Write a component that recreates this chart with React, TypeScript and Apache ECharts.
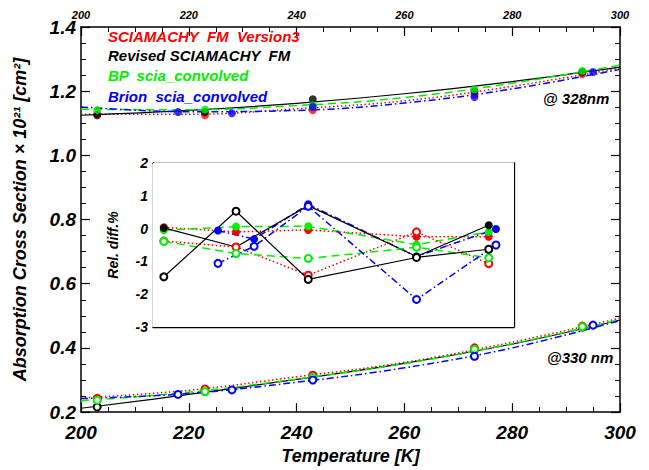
import React, { useEffect, useRef } from "react";
import * as echarts from "echarts";

// Temperatures [K]
const tempsSci = [203, 223, 243, 273, 293];
const tempsBrion = [218, 228, 243, 273, 295];
const fitT = [200, 220, 240, 260, 280, 300];

// Measured points @ 328 nm (filled)
const red328 = [1.128, 1.125, 1.141, 1.19, 1.253];
const black328 = [1.125, 1.135, 1.175, 1.2, 1.26];
const green328 = [1.141, 1.143, 1.156, 1.205, 1.263];
const blue328 = [1.135, 1.131, 1.151, 1.182, 1.26];

// Measured points @ 330 nm (open)
const red330 = [0.243, 0.272, 0.315, 0.4, 0.468];
const black330 = [0.216, 0.265, 0.305, 0.395, 0.465];
const green330 = [0.237, 0.264, 0.308, 0.396, 0.466];
const blue330 = [0.255, 0.269, 0.3, 0.374, 0.471];

// Fit curves
const redFit328 = [1.128, 1.128, 1.145, 1.17, 1.215, 1.272];
const blackFit328 = [1.125, 1.14, 1.162, 1.192, 1.23, 1.275];
const greenFit328 = [1.144, 1.142, 1.155, 1.18, 1.225, 1.281];
const blueFit328 = [1.151, 1.136, 1.14, 1.163, 1.207, 1.268];
const redFit330 = [0.244, 0.268, 0.31, 0.355, 0.418, 0.493];
const blackFit330 = [0.212, 0.255, 0.302, 0.352, 0.412, 0.487];
const greenFit330 = [0.235, 0.262, 0.303, 0.351, 0.413, 0.488];
const blueFit330 = [0.242, 0.258, 0.293, 0.338, 0.4, 0.485];

// Relative differences [%] (inset)
const redRel328 = [0.04, -0.1, -0.04, -0.25, -0.25];
const blackRel328 = [0.02, -0.56, 0.7, -0.85, 0.1];
const greenRel328 = [-0.05, 0.06, 0.07, -0.49, -0.1];
const blueRel328 = [-0.06, -0.32, 0.74, -0.85, -0.01];
const redRel330 = [-0.38, -0.56, -1.42, -0.1, -1.07];
const blackRel330 = [-1.47, 0.53, -1.55, -0.88, -0.63];
const greenRel330 = [-0.39, -0.76, -0.91, -0.57, -0.89];
const blueRel330 = [-1.06, -0.54, 0.68, -2.16, -0.5];

const xTicks = [200, 220, 240, 260, 280, 300];
const yTicks = [0.2, 0.4, 0.6, 0.8, 1.0, 1.2, 1.4];
const relTicks = [-3, -2, -1, 0, 1, 2];

const legendNames = [
  "SCIAMACHY  FM  Version3",
  "Revised SCIAMACHY  FM",
  "BP  scia_convolved",
  "Brion  scia_convolved",
];

const RED = "#ff0000";
const BLACK = "#000000";
const GREEN = "#00ee00";
const BLUE = "#0000ff";
const FONT = '"Liberation Sans", Arial, Helvetica, sans-serif';

const styles: any = {
  red: { color: RED, type: [1.5, 2.5], width: 1.5 },
  black: { color: BLACK, type: "solid", width: 1.2 },
  green: { color: GREEN, type: [8, 5], width: 1.5 },
  blue: { color: BLUE, type: [7, 3, 1.5, 3], width: 1.5 },
};

const zip = (xs: number[], ys: number[]) => xs.map((x, i) => [x, ys[i]]);

export default function App() {
  const ref = useRef<HTMLDivElement>(null);
  useEffect(() => {
    document.body.style.margin = "0";
    const chart = echarts.init(ref.current!, undefined, { renderer: "svg" });

    const fitLine = (name: string, key: string, ys: number[]) => ({
      name,
      type: "line",
      xAxisIndex: 0,
      yAxisIndex: 0,
      data: zip(fitT, ys),
      smooth: 0.4,
      showSymbol: false,
      lineStyle: styles[key],
      z: 2,
    });
    const pts = (name: string, key: string, xs: number[], ys: number[], open: boolean) => ({
      name,
      type: "scatter",
      xAxisIndex: 0,
      yAxisIndex: 0,
      data: zip(xs, ys),
      symbol: open ? "emptyCircle" : "circle",
      symbolSize: open ? 7 : 8,
      itemStyle: open
        ? { color: styles[key].color, borderWidth: 1, opacity: 1 }
        : { color: styles[key].color },
      z: 3,
    });
    const rel = (name: string, key: string, xs: number[], ys: number[], open: boolean) => ({
      name,
      type: "line",
      xAxisIndex: 2,
      yAxisIndex: 2,
      data: zip(xs, ys),
      symbol: open ? "emptyCircle" : "circle",
      symbolSize: open ? 7 : 8,
      showAllSymbol: true,
      lineStyle: styles[key],
      itemStyle: open
        ? { color: styles[key].color, borderWidth: 1 }
        : { color: styles[key].color },
      z: 5,
    });

    const tickFont = { fontFamily: FONT, fontWeight: "bold", fontStyle: "italic", color: "#000" };

    const option: any = {
      animation: false,
      backgroundColor: "#fff",
      grid: [
        { left: 81, right: 29, top: 27, bottom: 57, show: false },
        { left: 153, top: 163, width: 361, height: 164, show: true, backgroundColor: "#fff", borderWidth: 0, z: 4 },
      ],
      xAxis: [
        {
          gridIndex: 0, type: "value", position: "bottom", min: 200, max: 300, interval: 20,
          axisLine: { show: true, onZero: false, lineStyle: { color: "#000", width: 1.5 } },
          axisTick: { inside: true, length: 9, lineStyle: { color: "#000", width: 1.2 } },
          minorTick: { show: true, splitNumber: 4, length: 5, lineStyle: { color: "#000", width: 1 } },
          splitLine: { show: false },
          axisLabel: { ...tickFont, fontSize: 19, margin: 11, formatter: (v: number) => (xTicks.includes(v) ? String(v) : "") },
          name: "Temperature [K]", nameLocation: "middle", nameGap: 33,
          nameTextStyle: { ...tickFont, fontSize: 18 },
        },
        {
          gridIndex: 0, type: "value", position: "top", min: 200, max: 300, interval: 20,
          axisLine: { show: true, onZero: false, lineStyle: { color: "#000", width: 1.5 } },
          axisTick: { inside: true, length: 9, lineStyle: { color: "#000", width: 1.2 } },
          minorTick: { show: true, splitNumber: 4, length: 5, lineStyle: { color: "#000", width: 1 } },
          splitLine: { show: false },
          axisLabel: { ...tickFont, fontSize: 11, lineHeight: 10, margin: 7 },
        },
        {
          gridIndex: 1, type: "value", position: "bottom", min: 200, max: 300, interval: 20,
          axisLine: { show: true, onZero: false, lineStyle: { color: "#000", width: 1.3 } },
          axisTick: { inside: true, length: 6, lineStyle: { color: "#000" } },
          minorTick: { show: true, splitNumber: 2, length: 4, lineStyle: { color: "#000" } },
          splitLine: { show: false },
          axisLabel: { show: false },
        },
        {
          gridIndex: 1, type: "value", position: "top", min: 200, max: 300, interval: 20,
          axisLine: { show: true, onZero: false, lineStyle: { color: "#000", width: 1.3 } },
          axisTick: { inside: true, length: 6, lineStyle: { color: "#000" } },
          minorTick: { show: true, splitNumber: 10, length: 4, lineStyle: { color: "#000" } },
          splitLine: { show: false },
          axisLabel: { show: false },
        },
      ],
      yAxis: [
        {
          gridIndex: 0, type: "value", position: "left", min: 0.2, max: 1.4, interval: 0.2,
          axisLine: { show: true, onZero: false, lineStyle: { color: "#000", width: 1.5 } },
          axisTick: { inside: true, length: 9, lineStyle: { color: "#000", width: 1.2 } },
          minorTick: { show: true, splitNumber: 4, length: 5, lineStyle: { color: "#000", width: 1 } },
          splitLine: { show: false },
          axisLabel: {
            ...tickFont, fontSize: 19, lineHeight: 13, margin: 5,
            formatter: (v: number) => {
              const t = yTicks.find((y) => Math.abs(y - v) < 1e-6);
              return t === undefined ? "" : t.toFixed(1);
            },
          },
          name: "Absorption Cross Section × 10²¹ [cm²]", nameLocation: "middle", nameGap: 52, nameRotate: 90,
          nameTextStyle: { ...tickFont, fontSize: 18 },
        },
        {
          gridIndex: 0, type: "value", position: "right", min: 0.2, max: 1.4, interval: 0.2,
          axisLine: { show: true, onZero: false, lineStyle: { color: "#000", width: 1.5 } },
          axisTick: { inside: true, length: 9, lineStyle: { color: "#000", width: 1.2 } },
          minorTick: { show: true, splitNumber: 4, length: 5, lineStyle: { color: "#000", width: 1 } },
          splitLine: { show: false },
          axisLabel: { show: false },
        },
        {
          gridIndex: 1, type: "value", position: "left", min: -3, max: 2, interval: 1,
          axisLine: { show: true, onZero: false, lineStyle: { color: "#000", width: 1.3 } },
          axisTick: { inside: true, length: 7, lineStyle: { color: "#000" } },
          minorTick: { show: true, splitNumber: 10, length: 4, lineStyle: { color: "#000" } },
          splitLine: { show: true, lineStyle: { color: "#000", type: "dotted", width: 1 } },
          axisLabel: {
            ...tickFont, fontSize: 14, margin: 5,
            formatter: (v: number) => (relTicks.includes(v) ? String(v) : ""),
          },
          name: "Rel. diff.%", nameLocation: "middle", nameGap: 33, nameRotate: 90,
          nameTextStyle: { ...tickFont, fontSize: 14 },
        },
        {
          gridIndex: 1, type: "value", position: "right", min: -3, max: 2, interval: 1,
          axisLine: { show: true, onZero: false, lineStyle: { color: "#000", width: 1.3 } },
          axisTick: { inside: true, length: 7, lineStyle: { color: "#000" } },
          minorTick: { show: true, splitNumber: 10, length: 4, lineStyle: { color: "#000" } },
          splitLine: { show: false },
          axisLabel: { show: false },
        },
      ],
      graphic: [
        ...legendNames.map((t, i) => ({
          type: "text",
          x: 108,
          y: [36, 55, 75, 96][i],
          z: 10,
          style: {
            text: t,
            fill: [RED, BLACK, GREEN, BLUE][i],
            font: `italic bold 15px ${FONT}`,
            align: "left",
            verticalAlign: "middle",
          },
        })),
        {
          type: "text", x: 543, y: 98, z: 10,
          style: { text: "@ 328nm", fill: "#000", font: `italic bold 15px ${FONT}`, align: "left", verticalAlign: "middle" },
        },
        {
          type: "text", x: 547, y: 357, z: 10,
          style: { text: "@330 nm", fill: "#000", font: `italic bold 15px ${FONT}`, align: "left", verticalAlign: "middle" },
        },
      ],
      series: [
        fitLine(legendNames[0], "red", redFit328),
        fitLine(legendNames[1], "black", blackFit328),
        fitLine(legendNames[2], "green", greenFit328),
        fitLine(legendNames[3], "blue", blueFit328),
        fitLine(legendNames[0], "red", redFit330),
        fitLine(legendNames[1], "black", blackFit330),
        fitLine(legendNames[2], "green", greenFit330),
        fitLine(legendNames[3], "blue", blueFit330),
        pts(legendNames[0], "red", tempsSci, red328, false),
        pts(legendNames[1], "black", tempsSci, black328, false),
        pts(legendNames[2], "green", tempsSci, green328, false),
        pts(legendNames[3], "blue", tempsBrion, blue328, false),
        pts(legendNames[1], "black", tempsSci, black330, true),
        pts(legendNames[0], "red", tempsSci, red330, true),
        pts(legendNames[2], "green", tempsSci, green330, true),
        pts(legendNames[3], "blue", tempsBrion, blue330, true),
        rel(legendNames[0], "red", tempsSci, redRel328, false),
        rel(legendNames[2], "green", tempsSci, greenRel328, false),
        rel(legendNames[3], "blue", tempsBrion, blueRel328, false),
        rel(legendNames[1], "black", tempsSci, blackRel328, false),
        rel(legendNames[0], "red", tempsSci, redRel330, true),
        rel(legendNames[2], "green", tempsSci, greenRel330, true),
        rel(legendNames[3], "blue", tempsBrion, blueRel330, true),
        rel(legendNames[1], "black", tempsSci, blackRel330, true),
      ],
    };
    chart.setOption(option);
    return () => chart.dispose();
  }, []);
  return <div ref={ref} style={{ width: 649, height: 470 }} />;
}
